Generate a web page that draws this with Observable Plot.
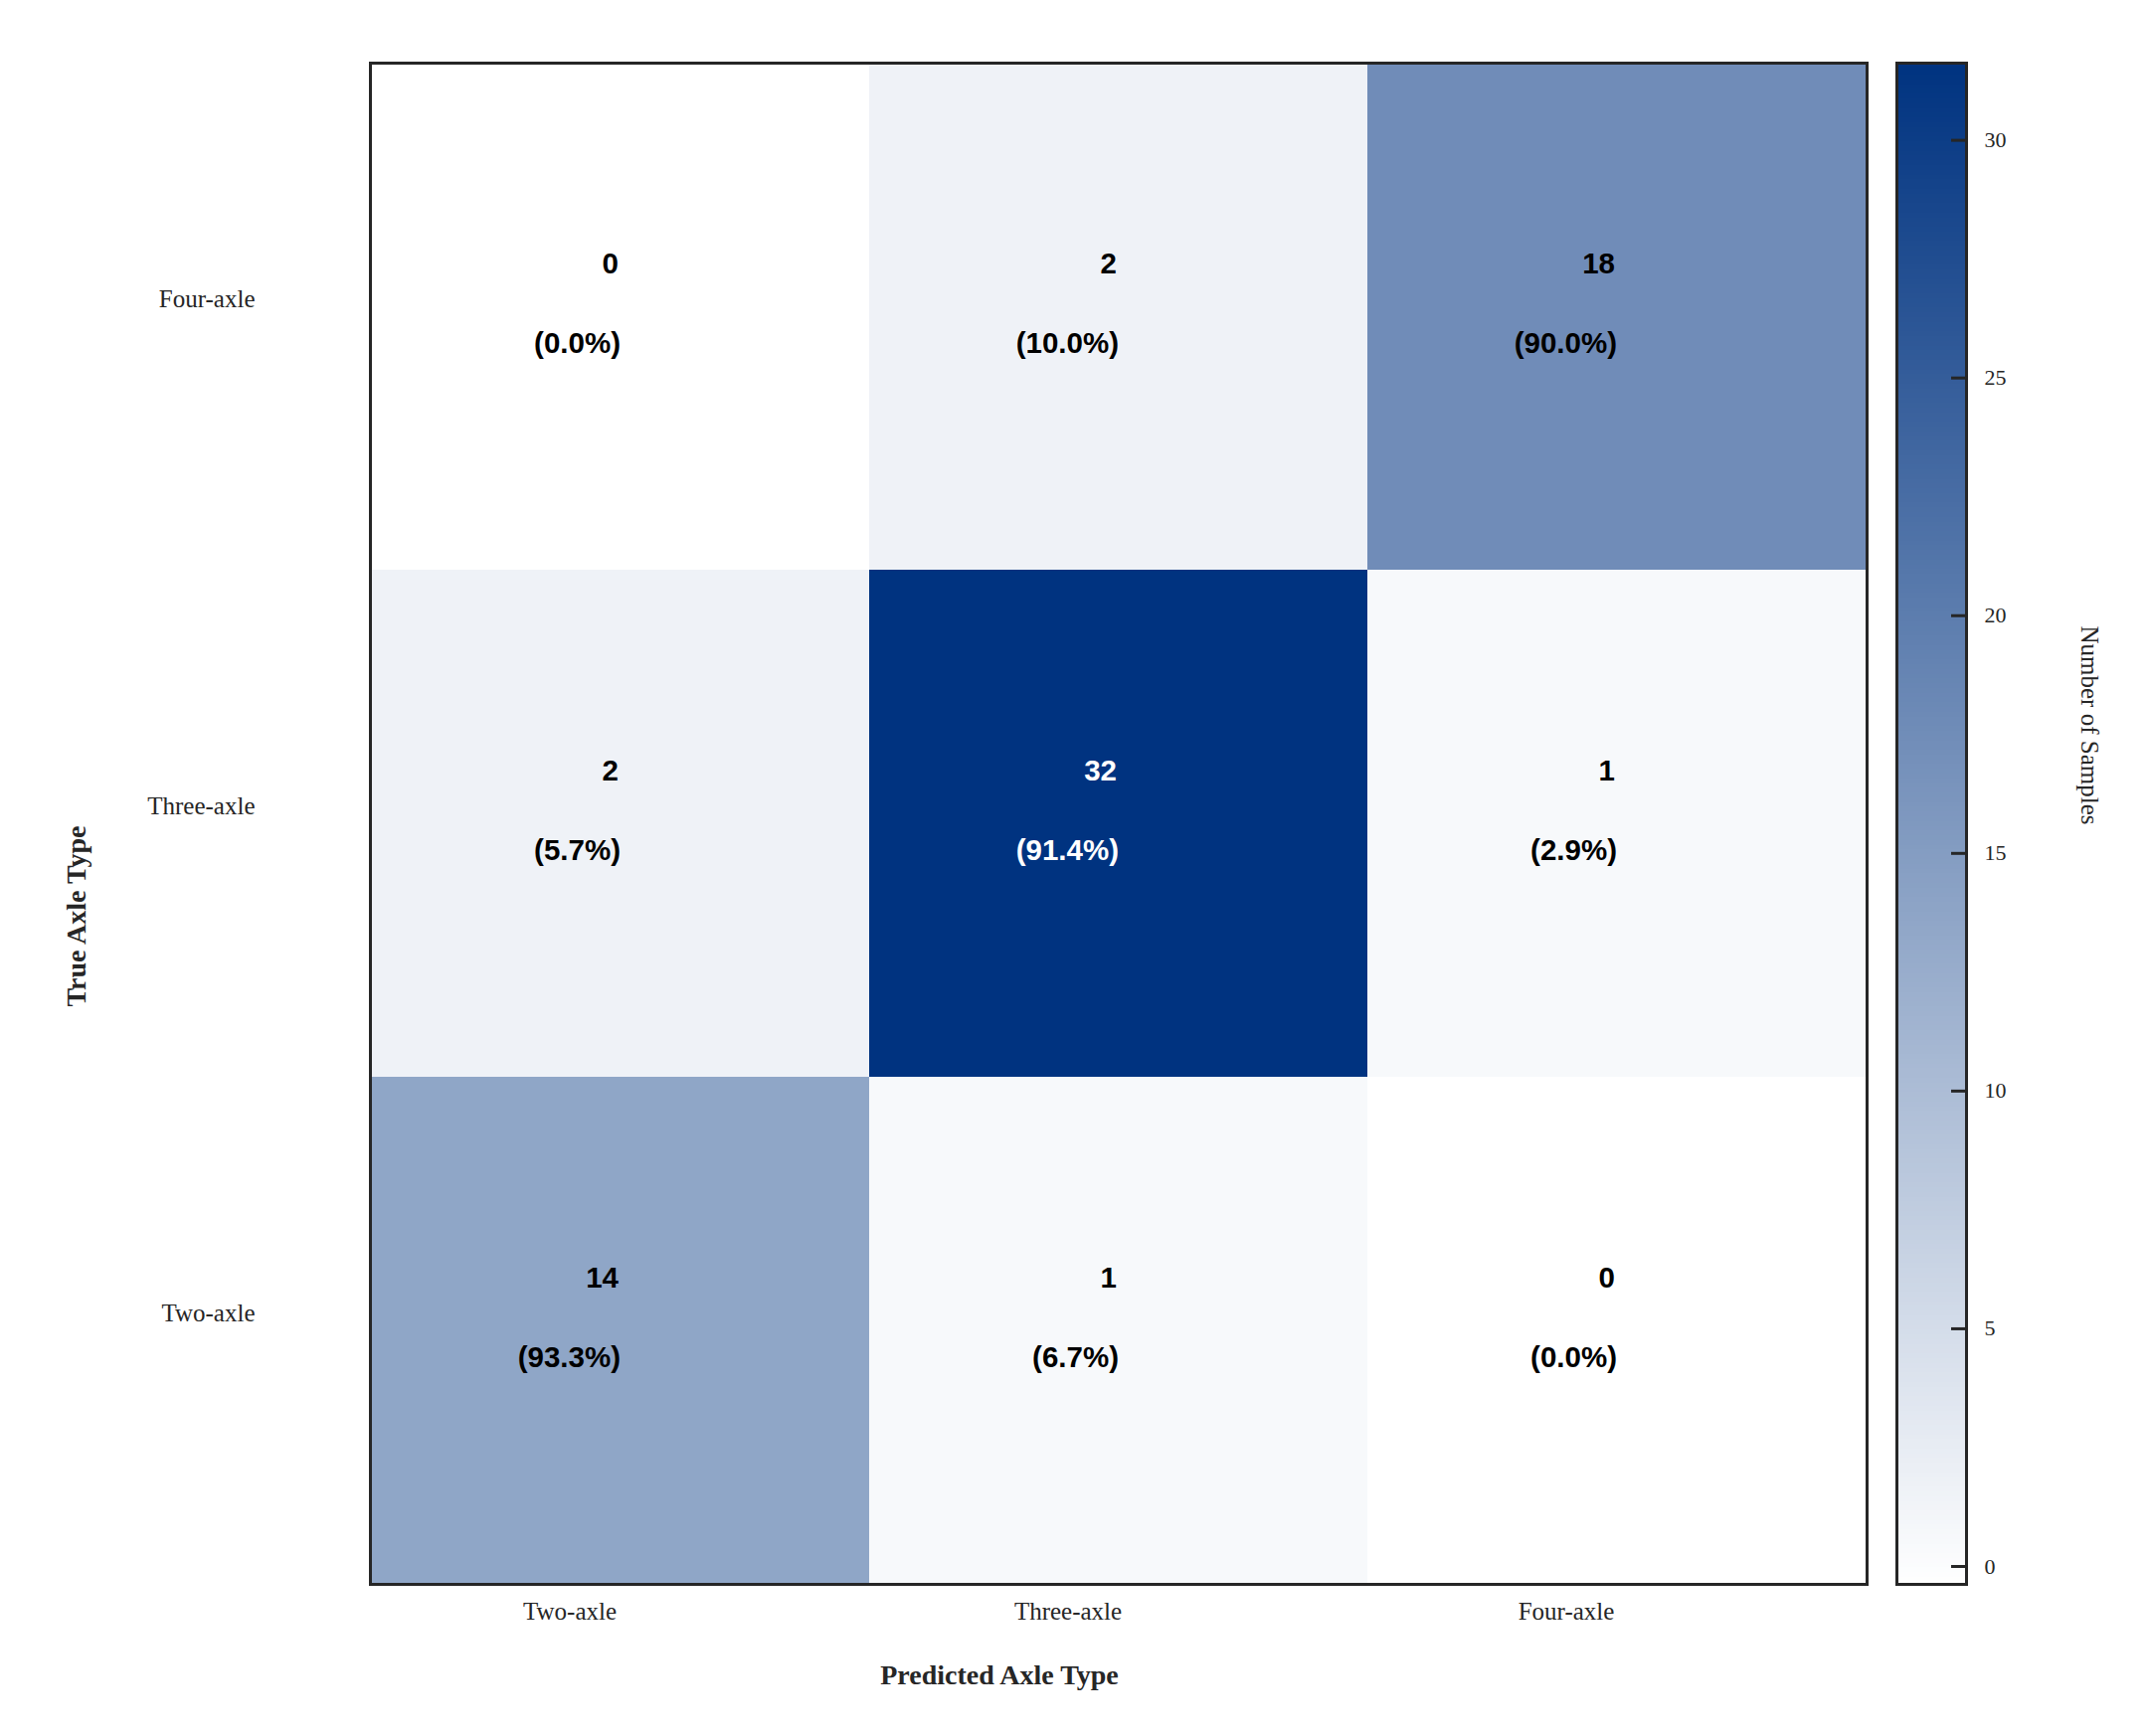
<!DOCTYPE html>
<html>
<head>
<meta charset="utf-8">
<script src="https://cdn.jsdelivr.net/npm/d3@7"></script>
<script src="https://cdn.jsdelivr.net/npm/@observablehq/plot@0.6"></script>
<style>
  html, body { margin: 0; padding: 0; background: white; }
  #wrap { position: relative; width: 2161px; height: 1746px; background: white; }
  #main, #cbar { position: absolute; top: 0; }
  #main { left: 0; }
  #cbar { left: 1880px; }
</style>
</head>
<body>
<div id="wrap"><div id="main"></div><div id="cbar"></div></div>
<script>
// ---- data ----
const trueLabels = ["Four-axle", "Three-axle", "Two-axle"];        // rows, top to bottom
const predictedLabels = ["Two-axle", "Three-axle", "Four-axle"];   // columns, left to right
const countsFourAxle  = [0, 2, 18];
const countsThreeAxle = [2, 32, 1];
const countsTwoAxle   = [14, 1, 0];
const colorbarTicks = [0, 5, 10, 15, 20, 25, 30];
const colorMax = 32;
const xTitle = "Predicted Axle Type";
const yTitle = "True Axle Type";
const colorTitle = "Number of Samples";

const countRows = [countsFourAxle, countsThreeAxle, countsTwoAxle];
const cells = trueLabels.flatMap((t, i) => {
  const total = d3.sum(countRows[i]);
  return predictedLabels.map((p, j) => ({
    trueType: t, predType: p, count: countRows[i][j],
    pct: (countRows[i][j] / total * 100).toFixed(1)
  }));
});

const ink = "#262626";
const colorScale = {type: "linear", domain: [0, colorMax], range: ["#ffffff", "#003380"], interpolate: "rgb"};
const serif = "Liberation Serif, Times New Roman, serif";
const sans = "Liberation Sans, Arial, sans-serif";

const main = Plot.plot({
  width: 1900, height: 1746,
  marginLeft: 372, marginRight: 23, marginTop: 63, marginBottom: 153,
  style: {fontFamily: serif, fontSize: "25px", color: ink, background: "white"},
  x: {type: "band", domain: predictedLabels, padding: 0, label: null},
  y: {type: "band", domain: trueLabels, padding: 0, label: null},
  color: colorScale,
  marks: [
    Plot.cell(cells, {x: "predType", y: "trueType", fill: "count", inset: 0}),
    Plot.text(cells, {x: "predType", y: "trueType", text: d => String(d.count), textAnchor: "end",
      dx: -2, dy: -53, fontFamily: sans, fontWeight: "bold", fontSize: 29.5,
      fill: d => d.count > 24 ? "white" : "black"}),
    Plot.text(cells, {x: "predType", y: "trueType", text: d => `(${d.pct}%)`, textAnchor: "end",
      dy: 27, fontFamily: sans, fontWeight: "bold", fontSize: 29.5,
      fill: d => d.count > 24 ? "white" : "black"}),
    Plot.axisX({anchor: "bottom", tickSize: 0, tickPadding: 18, dx: -51, fontSize: 25, label: null}),
    Plot.axisY({anchor: "left", tickSize: 0, tickPadding: 116, dy: -18, fontSize: 25, label: null}),
    Plot.text([xTitle], {frameAnchor: "bottom", text: d => d, textAnchor: "middle", dx: -120, dy: 100,
      fontWeight: "bold", fontSize: 28, fill: ink}),
    Plot.text([yTitle], {frameAnchor: "left", text: d => d, textAnchor: "middle", lineAnchor: "middle",
      rotate: -90, dx: -295, dy: 93, fontWeight: "bold", fontSize: 28, fill: ink}),
    Plot.frame({stroke: ink, strokeWidth: 3})
  ]
});
document.getElementById("main").appendChild(main);

const cbar = Plot.plot({
  width: 281, height: 1746,
  marginLeft: 27, marginRight: 184, marginTop: 63, marginBottom: 153,
  style: {fontFamily: serif, fontSize: "22px", color: ink, background: "transparent"},
  x: {type: "linear", domain: [0, 1], axis: null},
  y: {type: "linear", domain: [0, colorMax], ticks: colorbarTicks, label: null},
  color: colorScale,
  marks: [
    Plot.raster({x1: 0, x2: 1, y1: 0, y2: colorMax, width: 1, height: 320, fill: (x, y) => y}),
    Plot.axisY(colorbarTicks, {anchor: "right", tickSize: -16, tickPadding: 34, strokeWidth: 3,
      dy: -18, fontSize: 22, label: null}),
    Plot.text([colorTitle], {frameAnchor: "right", text: d => d, textAnchor: "middle", lineAnchor: "middle",
      rotate: 90, dx: 123, dy: -99, fontSize: 25, fill: ink}),
    Plot.frame({stroke: ink, strokeWidth: 3})
  ]
});
document.getElementById("cbar").appendChild(cbar);
</script>
</body>
</html>
